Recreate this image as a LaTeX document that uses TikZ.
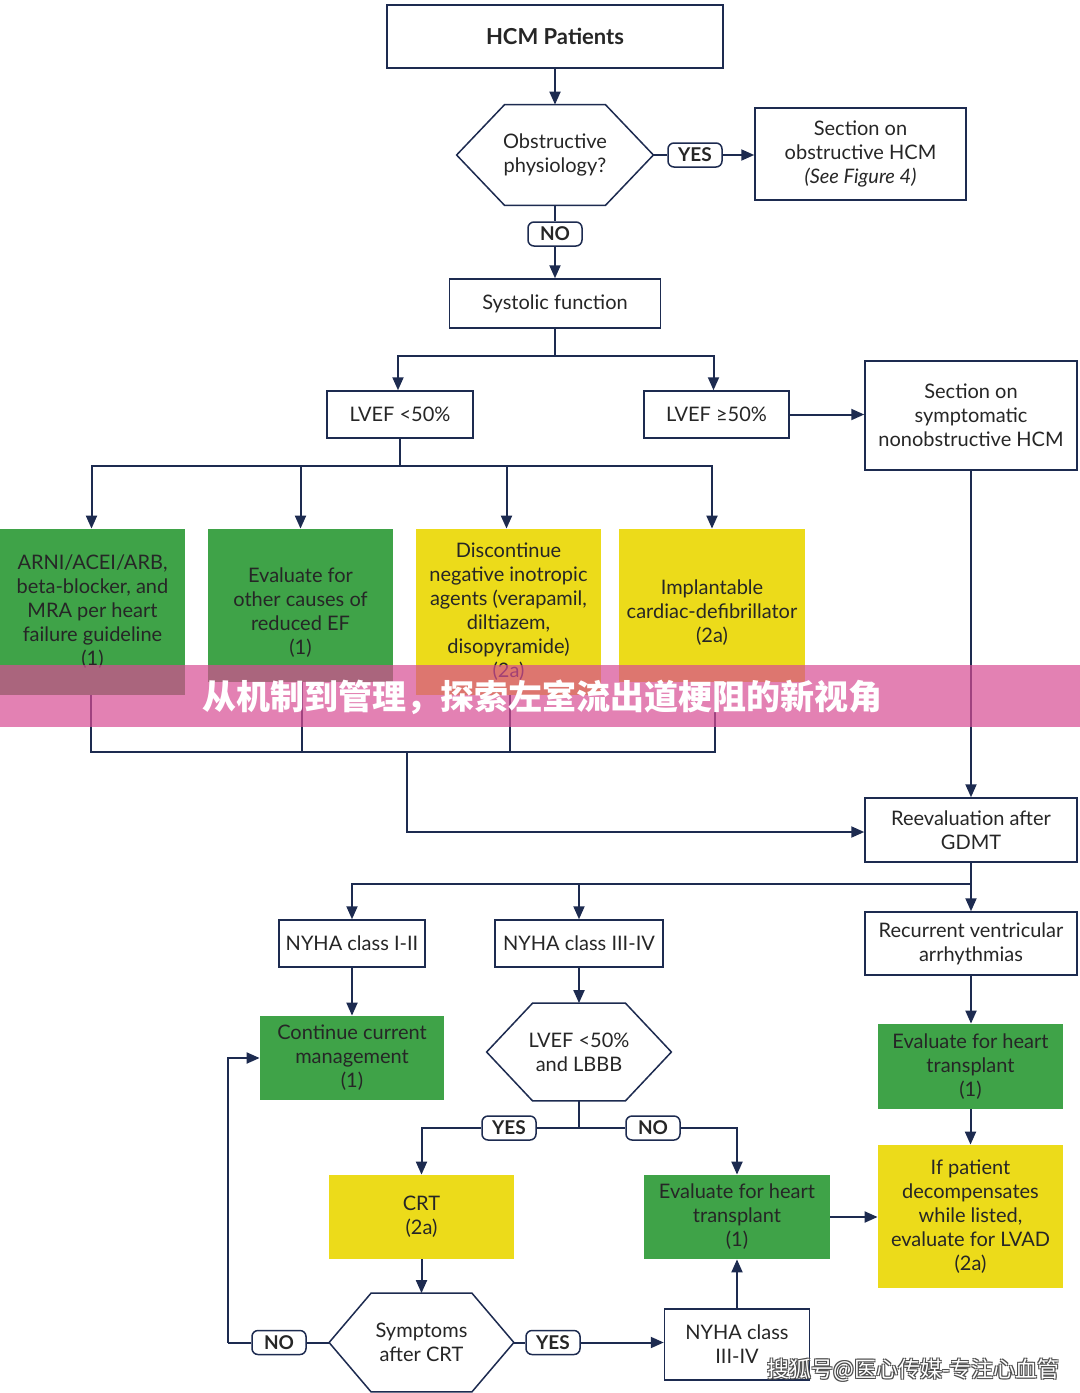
\documentclass[tikz,border=0pt]{standalone}
\usepackage{fontspec}
\setmainfont{Lato}
\newfontfamily\cjk{Noto Sans CJK SC}
\usetikzlibrary{arrows.meta,calc}
\definecolor{navy}{HTML}{1D2B50}
\definecolor{grn}{HTML}{3FA348}
\definecolor{ylw}{HTML}{ECDB1A}
\definecolor{txt}{HTML}{262626}
\definecolor{pinkb}{RGB}{216,76,148}
\newcommand\fs{\fontsize{10}{12}\selectfont}
\newcommand\hexdraw[2]{\draw[hexl] (#1.west) -- ([xshift=#2]#1.north west) -- ([xshift=-#2]#1.north east) -- (#1.east) -- ([xshift=-#2]#1.south east) -- ([xshift=#2]#1.south west) -- cycle;}
\tikzset{
  every node/.style={text=txt},
  ln/.style={draw=navy,line width=1pt},
  arr/.style={ln,-{Triangle[length=6.5pt,width=5.5pt]}},
  wbox/.style={draw=navy,line width=0.75pt,fill=white,align=center,inner sep=0pt,font=\fs},
  cbox/.style={align=center,inner sep=0pt,font=\fs},
  gbox/.style={cbox,fill=grn},
  ybox/.style={cbox,fill=ylw},
  lab/.style={draw=navy,line width=0.75pt,fill=white,rounded corners=3pt,inner sep=0pt,minimum width=27pt,minimum height=12pt,font=\fontsize{9.5}{11}\selectfont\bfseries},
  hexn/.style={align=center,inner sep=0pt,font=\fs},
  hexl/.style={draw=navy,line width=0.75pt},
  wmk/.style={font=\cjk\fontsize{11}{13}\selectfont,inner sep=0pt},
}
\begin{document}
\begin{tikzpicture}[x=0.5pt,y=-0.5pt]
\useasboundingbox[fill=white] (0,0) rectangle (1080,1393);

% ---- top part
\node[wbox,minimum width=168pt,minimum height=31.5pt,font=\fontsize{11}{13}\selectfont\bfseries] (hcm) at (555,36.5) {HCM Patients};
\node[hexn,minimum width=98pt,minimum height=50pt] (obs) at (555,155) {Obstructive\\physiology?};
\hexdraw{obs}{24pt}
\node[lab] (yes1) at (695,155) {YES};
\node[wbox,minimum width=105.5pt,minimum height=46pt] (sec1) at (860.5,154) {Section on\\obstructive HCM\\\textit{(See Figure 4)}};
\node[lab] (no1) at (555,234) {NO};
\node[wbox,minimum width=105.5pt,minimum height=24.5pt] (sys) at (555,303.5) {Systolic function};
\node[wbox,minimum width=73pt,minimum height=23.5pt] (lv1) at (400,414.5) {LVEF <50\%};
\node[wbox,minimum width=72.5pt,minimum height=23.5pt] (lv2) at (716.5,414.5) {LVEF ≥50\%};
\node[wbox,minimum width=106pt,minimum height=54.5pt] (sec2) at (971,415.5) {Section on\\symptomatic\\nonobstructive HCM};

\coordinate (j1) at (555,356);
\coordinate (j2) at (400,466);
\coordinate (j3) at (407,752);
\coordinate (j4) at (971,884);

\draw[arr] (hcm) -- (obs);
\draw[ln] (obs.east) -- (yes1.west);
\draw[arr] (yes1.east) -- (yes1.east -| sec1.west);
\draw[ln] (obs.south) -- (no1.north);
\draw[arr] (no1.south) -- (sys.north);
\draw[ln] (sys.south) -- (j1);
\draw[arr] (j1) -| ([xshift=-1pt]lv1.north);
\draw[arr] (j1) -| ([xshift=-1.5pt]lv2.north);
\draw[arr] (lv2.east) -- (lv2.east -| sec2.west);

% ---- four treatment boxes
\node[gbox,minimum width=92.5pt,minimum height=83pt] (g1) at (92.5,612) {ARNI/ACEI/ARB,\\beta-blocker, and\\MRA per heart\\failure guideline\\(1)};
\node[gbox,minimum width=92.5pt,minimum height=76.5pt,label={[cbox,yshift=-3.75pt]center:{Evaluate for\\other causes of\\reduced EF\\(1)}}] (g2) at (300.5,605.5) {};
\node[ybox,minimum width=92.5pt,minimum height=83pt] (y3) at (508.5,612) {Discontinue\\negative inotropic\\agents (verapamil,\\diltiazem,\\disopyramide)\\(2a)};
\node[ybox,minimum width=93pt,minimum height=76.5pt,label={[cbox,yshift=-3.75pt]center:{Implantable\\cardiac-defibrillator\\(2a)}}] (y4) at (712,605.5) {};

\draw[ln] (lv1.south) -- (j2);
\draw[arr] (j2) -| ([xshift=-0.5pt]g1.north);
\draw[arr] (j2) -| (g2.north);
\draw[arr] (j2) -| ([xshift=-1pt]y3.north);
\draw[arr] (j2) -| (y4.north);

\node[wbox,minimum width=106pt,minimum height=32pt] (reev) at (971,830) {Reevaluation after\\GDMT};
\draw[ln] ([xshift=-0.75pt]g1.south) |- (j3);
\draw[ln] ([xshift=0.75pt]g2.south) |- (j3);
\draw[ln] ([xshift=0.75pt]y3.south) |- (j3);
\draw[ln] ([xshift=1.5pt]y4.south) |- (j3);
\draw[arr] (j3) |- ([yshift=-1pt]reev.west);
\draw[arr] (sec2.south) -- (reev.north);

% ---- lower part
\node[wbox,minimum width=73pt,minimum height=23.5pt] (ny1) at (352,943.5) {NYHA class I-II};
\node[wbox,minimum width=84pt,minimum height=23.5pt] (ny2) at (579,943.5) {NYHA class III-IV};
\node[wbox,minimum width=106pt,minimum height=31.5pt] (rec) at (971,943.5) {Recurrent ventricular\\arrhythmias};
\draw[ln] (reev.south) -- (j4);
\draw[arr] (j4) -| (ny1.north);
\draw[arr] (j4) -| (ny2.north);
\draw[arr] (j4) -- (rec.north);

\node[gbox,minimum width=92pt,minimum height=42pt] (cont) at (352,1058) {Continue current\\management\\(1)};
\node[hexn,minimum width=92pt,minimum height=48.5pt] (hex2) at (579,1052) {LVEF <50\%\\and LBBB};
\hexdraw{hex2}{23pt}
\draw[arr] (ny1.south) -- (cont.north);
\draw[arr] (ny2.south) -- (hex2.north);

\coordinate (j5) at (579,1128);
\node[lab] (yes2) at (509,1128) {YES};
\node[lab] (no2) at (653,1128) {NO};
\node[ybox,minimum width=92.5pt,minimum height=42pt] (crt) at (421.5,1217) {CRT\\(2a)};
\node[gbox,minimum width=93pt,minimum height=42pt] (evt) at (737,1217) {Evaluate for heart\\transplant\\(1)};
\draw[ln] (hex2.south) -- (j5);
\draw[ln] (j5) -- (yes2.east);
\draw[arr] (yes2.west) -| (crt.north);
\draw[ln] (j5) -- (no2.west);
\draw[arr] (no2.east) -| (evt.north);

\node[hexn,minimum width=92pt,minimum height=49pt] (hex3) at (421.5,1342.5) {Symptoms\\after CRT};
\hexdraw{hex3}{21pt}
\draw[arr] (crt.south) -- (hex3.north);
\node[lab] (no3) at (279,1342.5) {NO};
\node[lab] (yes3) at (553,1342.5) {YES};
\node[wbox,minimum width=72.5pt,minimum height=35.5pt] (ny3) at (737,1344.5) {NYHA class\\III-IV};
\coordinate (c1) at (228,1342.5);
\draw[ln] (hex3.west) -- (no3.east);
\draw[ln] (no3.west) -- (c1);
\draw[arr] (c1) |- (cont.west);
\draw[ln] (hex3.east) -- (yes3.west);
\draw[arr] (yes3.east) -- (yes3.east -| ny3.west);
\draw[arr] (ny3.north) -- (evt.south);

\node[gbox,minimum width=92.5pt,minimum height=42.5pt] (evt2) at (970.5,1066.5) {Evaluate for heart\\transplant\\(1)};
\node[ybox,minimum width=92.5pt,minimum height=71.5pt] (lvad) at (970.5,1216.5) {If patient\\decompensates\\while listed,\\evaluate for LVAD\\(2a)};
\draw[arr] (rec.south) -- (rec.south |- evt2.north);
\draw[arr] (evt2.south) -- (lvad.north);
\draw[arr] (evt.east) -- (evt.east -| lvad.west);

% ---- overlay banner and watermark
\fill[pinkb,opacity=0.7] (0,665) rectangle (1080,727);
\node[font=\cjk\fontsize{17}{20}\selectfont\bfseries,text=white,inner sep=0pt] (ban) at (542,697) {从机制到管理，探索左室流出道梗阻的新视角};
\node[wmk,text=black!70] (wa) at (912.5,1369) {搜狐号@医心传媒-专注心血管};
\node[wmk,text=black!70] (wb) at (914.5,1371) {搜狐号@医心传媒-专注心血管};
\node[wmk,text=black!70] (wc) at (912.5,1371) {搜狐号@医心传媒-专注心血管};
\node[wmk,text=black!70] (wd) at (914.5,1369) {搜狐号@医心传媒-专注心血管};
\node[wmk,text=white] (we) at (913.5,1370) {搜狐号@医心传媒-专注心血管};
\end{tikzpicture}
\end{document}
